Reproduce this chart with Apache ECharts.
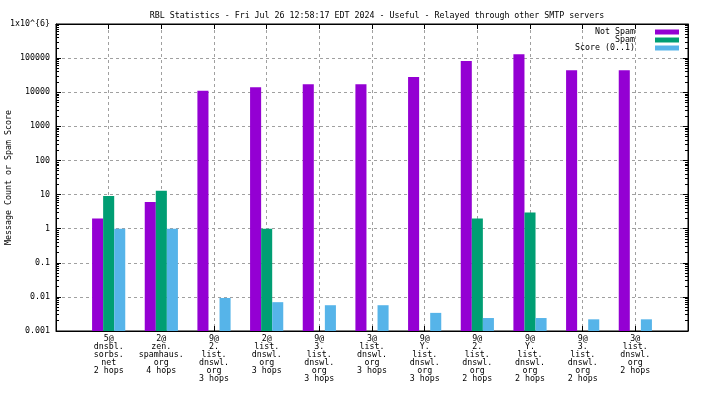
<!DOCTYPE html>
<html>
<head>
<meta charset="utf-8">
<script src="https://cdn.jsdelivr.net/npm/echarts@6/dist/echarts.min.js"></script>
<style>
  html, body { margin: 0; padding: 0; background: #fff; }
  #chart { width: 704px; height: 396px; }
</style>
</head>
<body>
<div id="chart"></div>
<script>
// groups along the x axis
const categories = [
  '5@\ndnsbl.\nsorbs.\nnet\n2 hops',
  '2@\nzen.\nspamhaus.\norg\n4 hops',
  '9@\n2.\nlist.\ndnswl.\norg\n3 hops',
  '2@\nlist.\ndnswl.\norg\n3 hops',
  '9@\n3.\nlist.\ndnswl.\norg\n3 hops',
  '3@\nlist.\ndnswl.\norg\n3 hops',
  '9@\nY.\nlist.\ndnswl.\norg\n3 hops',
  '9@\n2.\nlist.\ndnswl.\norg\n2 hops',
  '9@\nY.\nlist.\ndnswl.\norg\n2 hops',
  '9@\n3.\nlist.\ndnswl.\norg\n2 hops',
  '3@\nlist.\ndnswl.\norg\n2 hops'
];
const notSpam = [2, 6, 11000, 14000, 17000, 17000, 28000, 82000, 130000, 44000, 44000];
const spam = [9, 13, 0, 1, 0, 0, 0, 2, 3, 0, 0];
const score = [1, 1, 0.0093, 0.0070, 0.0057, 0.0057, 0.0034, 0.0024, 0.0024, 0.0022, 0.0022];
const yTickLabels = ['0.001', '0.01', '0.1', '1', '10', '100', '1000', '10000', '100000', '1x10^{6}'];

const FONT = 'DejaVu Sans Mono';
const FS = 8.3;
const Y_MIN = 0.001;

// gnuplot style bars: 3 per group, no gap, drawn from the bottom of the log axis
function barSeries(name, values, color, slot) {
  return {
    name: name,
    type: 'custom',
    itemStyle: { color: color },
    data: values.map((v, i) => [i, v]),
    renderItem: function (params, api) {
      const v = api.value(1);
      if (!(v > 0)) return null;
      const top = api.coord([api.value(0), v]);
      const bottom = api.coord([api.value(0), Y_MIN]);
      const w = api.size([1, 1])[0] * 0.21;
      return {
        type: 'rect',
        shape: { x: top[0] + slot * w - w / 2, y: top[1], width: w, height: bottom[1] - top[1] },
        style: { fill: color }
      };
    }
  };
}

const chart = echarts.init(document.getElementById('chart'));
const gridLine = { show: true, lineStyle: { color: '#a0a0a0', type: [3, 3], width: 1 } };
const yLabel = v => yTickLabels[Math.round(Math.log10(v)) + 3] || '';

chart.setOption({
  animation: false,
  textStyle: { fontFamily: FONT },
  title: {
    text: 'RBL Statistics - Fri Jul 26 12:58:17 EDT 2024 - Useful - Relayed through other SMTP servers',
    left: 372,
    top: 7,
    textAlign: 'center',
    textStyle: { fontFamily: FONT, fontSize: FS, fontWeight: 'normal', color: '#000' }
  },
  legend: {
    orient: 'vertical',
    right: 25,
    top: 28,
    padding: 0,
    align: 'right',
    icon: 'rect',
    itemWidth: 24,
    itemHeight: 5,
    itemGap: 0,
    formatter: n => n + '   ',
    textStyle: { fontFamily: FONT, fontSize: FS, color: '#000', lineHeight: 7.5 },
    data: ['Not Spam', 'Spam', 'Score (0..1)']
  },
  grid: {
    left: 56, right: 16, top: 24, bottom: 65,
    containLabel: false,
    outerBoundsMode: 'none',
    show: true, borderColor: '#000', borderWidth: 1
  },
  xAxis: [{
    type: 'value',
    min: -1, max: 11, interval: 1,
    axisLine: { show: true, onZero: false, lineStyle: { color: '#000' } },
    axisTick: { show: true, inside: true, length: 5, lineStyle: { color: '#000' } },
    axisLabel: {
      margin: 4,
      fontFamily: FONT, fontSize: FS, color: '#000', lineHeight: 8,
      formatter: v => categories[v] || ''
    },
    splitLine: gridLine
  }, {
    type: 'value',
    position: 'top',
    min: -1, max: 11, interval: 1,
    axisLine: { show: true, onZero: false, lineStyle: { color: '#000' } },
    axisTick: { show: true, inside: true, length: 5, lineStyle: { color: '#000' } },
    axisLabel: { show: false },
    splitLine: { show: false }
  }],
  yAxis: [{
    type: 'log',
    logBase: 10,
    min: Y_MIN, max: 1e6,
    splitNumber: 9,
    name: 'Message Count or Spam Score',
    nameLocation: 'middle',
    nameGap: 43,
    nameMoveOverlap: false,
    nameTextStyle: { fontFamily: FONT, fontSize: FS, color: '#000' },
    axisLine: { show: true, onZero: false, lineStyle: { color: '#000' } },
    axisTick: { show: true, inside: true, length: 5, lineStyle: { color: '#000' } },
    minorTick: { show: true, splitNumber: 9, length: 3, lineStyle: { color: '#000' } },
    axisLabel: { margin: 6, fontFamily: FONT, fontSize: FS, color: '#000', formatter: yLabel },
    splitLine: gridLine
  }, {
    type: 'log',
    logBase: 10,
    position: 'right',
    min: Y_MIN, max: 1e6,
    splitNumber: 9,
    axisLine: { show: true, onZero: false, lineStyle: { color: '#000' } },
    axisTick: { show: true, inside: true, length: 5, lineStyle: { color: '#000' } },
    minorTick: { show: true, splitNumber: 9, length: 3, lineStyle: { color: '#000' } },
    axisLabel: { show: false },
    splitLine: { show: false }
  }],
  series: [
    barSeries('Not Spam', notSpam, '#9400d3', -1),
    barSeries('Spam', spam, '#009e73', 0),
    barSeries('Score (0..1)', score, '#56b4e9', 1)
  ]
});
</script>
</body>
</html>
